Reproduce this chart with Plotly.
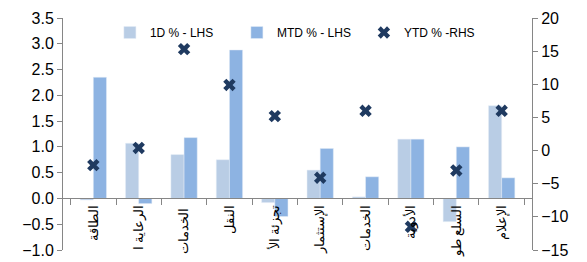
import plotly.graph_objects as go

categories = ["الطاقة", "الرعاية ا", "الخدمات ", "النقل", "تجزئة الأ", "الإستثمار", "الخدمات", "الأدوية", "السلع طو", "الإعلام"]
d1_values = [-0.03, 1.07, 0.85, 0.75, -0.08, 0.55, 0.03, 1.15, -0.45, 1.80]
mtd_values = [2.35, -0.10, 1.18, 2.88, -0.35, 0.97, 0.42, 1.15, 1.00, 0.40]
ytd_values = [-2.2, 0.4, 15.3, 9.9, 5.2, -4.1, 6.0, -11.5, -3.0, 6.0]

fig = go.Figure()
fig.add_trace(go.Bar(x=categories, y=d1_values, name="1D % - LHS", marker_color="#b9cde5", yaxis="y"))
fig.add_trace(go.Bar(x=categories, y=mtd_values, name="MTD % - LHS", marker_color="#8db3e2", yaxis="y"))
fig.add_trace(go.Scatter(x=categories, y=ytd_values, name="YTD % -RHS", mode="markers",
                         marker=dict(symbol="x", size=11, color="#1f3a60", line=dict(width=0)), yaxis="y2"))

axis_color = "#868686"
fig.update_layout(
    width=587, height=262,
    margin=dict(l=63, r=55, t=18, b=12),
    paper_bgcolor="white", plot_bgcolor="white",
    font=dict(family="Liberation Sans, Arial, sans-serif", color="#000000"),
    barmode="group", bargap=0.42, bargroupgap=0,
    showlegend=True,
    legend=dict(orientation="h", x=0.10, y=1.0, xanchor="left", yanchor="top",
                font=dict(size=12), bgcolor="rgba(0,0,0,0)", itemwidth=30,
                entrywidth=82, entrywidthmode="pixels"),
    xaxis=dict(anchor="free", position=0.2222, showline=True, linecolor=axis_color, linewidth=1,
               ticks="outside", tickson="boundaries", ticklen=6, tickcolor=axis_color,
               tickangle=-90, tickfont=dict(size=13), showgrid=False, zeroline=False,
               automargin=False),
    yaxis=dict(range=[-1, 3.5], dtick=0.5, tickformat=".1f", showline=True, linecolor=axis_color,
               ticks="outside", ticklen=5, tickcolor=axis_color, showgrid=False, zeroline=False,
               tickfont=dict(size=16), automargin=False),
    yaxis2=dict(range=[-15, 20], dtick=5, overlaying="y", side="right", showline=True,
                linecolor=axis_color, ticks="outside", ticklen=5, tickcolor=axis_color,
                showgrid=False, zeroline=False, tickfont=dict(size=16), automargin=False),
)

fig.write_html("out.html", config={"displayModeBar": False},
               post_script="document.body.style.margin='0';")
